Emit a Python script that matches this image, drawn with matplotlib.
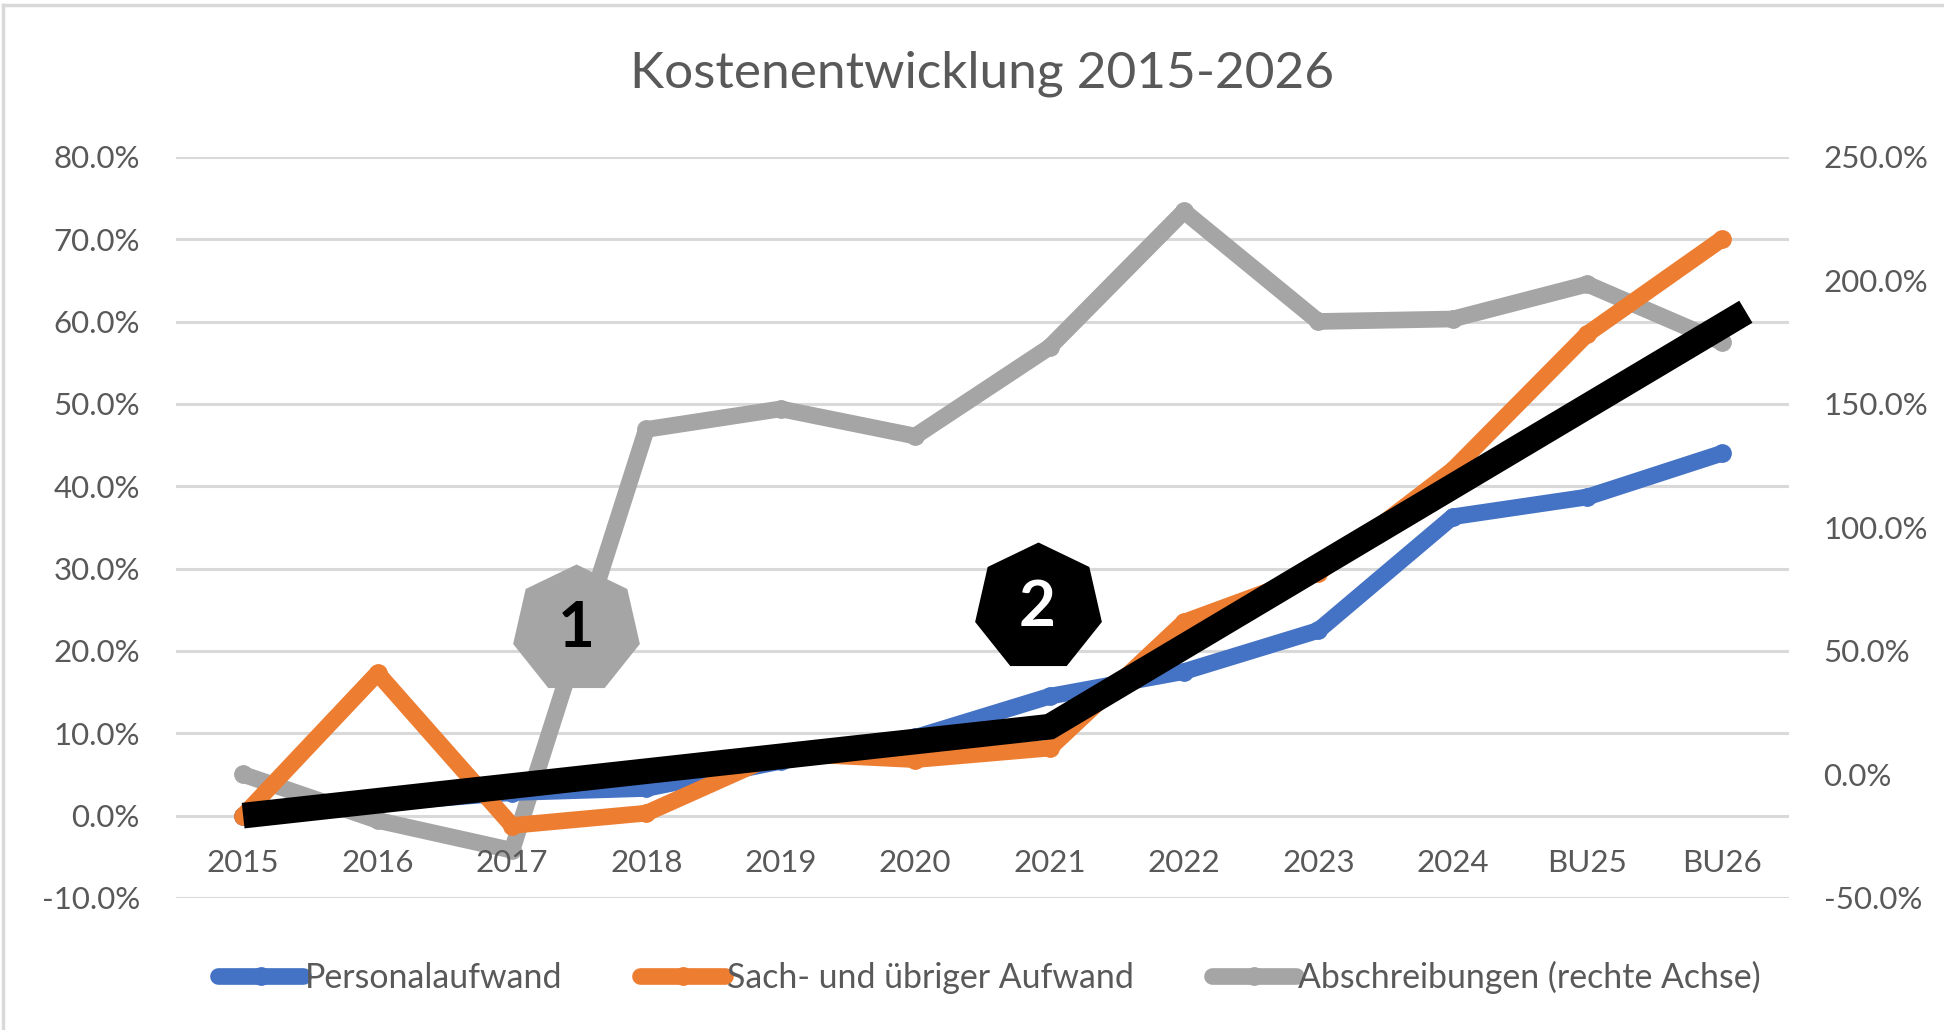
import matplotlib
matplotlib.use("Agg")
import matplotlib.pyplot as plt
import matplotlib.transforms as mtransforms
from matplotlib.ticker import PercentFormatter, MultipleLocator

plt.rcParams["font.family"] = ["Lato", "DejaVu Sans"]
plt.rcParams["axes.unicode_minus"] = False

# Data (fractions, 0.10 = 10 %)
categories = ["2015", "2016", "2017", "2018", "2019", "2020",
              "2021", "2022", "2023", "2024", "BU25", "BU26"]
personalaufwand = [0.0, 0.015, 0.028, 0.033, 0.066, 0.095,
                   0.145, 0.175, 0.225, 0.363, 0.387, 0.440]
sachaufwand = [0.0, 0.173, -0.012, 0.003, 0.076, 0.068,
               0.082, 0.235, 0.295, 0.420, 0.585, 0.700]
abschreibungen = [0.0, -0.186, -0.307, 1.397, 1.48, 1.37,
                  1.73, 2.28, 1.834, 1.844, 1.985, 1.75]  # right axis

# hand-drawn trend line (category position, left-axis value)
trend_x = [0, 6, 11.18]
trend_y = [0.0, 0.108, 0.612]

# numbered heptagon markers
badge_labels = ["1", "2"]
badge_x = [2.48, 5.91]
badge_y = [0.227, 0.253]
badge_face = ["#A5A5A5", "#000000"]
badge_text = ["#000000", "#FFFFFF"]

BLUE = "#4472C4"
ORANGE = "#ED7D31"
GRAY = "#A5A5A5"
TXT = "#595959"
GRID = "#D9D9D9"

fig = plt.figure(figsize=(19.44, 10.30), dpi=100)
ax = fig.add_axes([0.0905, 0.1282, 0.8297, 0.7194])
ax2 = ax.twinx()

x = list(range(len(categories)))
lw = 12
ms = 12.5

l3, = ax.plot(x, abschreibungen, color=GRAY, lw=lw, marker="o", ms=ms,
              solid_joinstyle="round", solid_capstyle="round",
              transform=ax2.transData, zorder=2,
              label="Abschreibungen (rechte Achse)")
l1, = ax.plot(x, personalaufwand, color=BLUE, lw=lw, marker="o", ms=ms,
              solid_joinstyle="round", solid_capstyle="round", zorder=3,
              label="Personalaufwand")
l2, = ax.plot(x, sachaufwand, color=ORANGE, lw=lw, marker="o", ms=ms,
              solid_joinstyle="round", solid_capstyle="round", zorder=4,
              label="Sach- und übriger Aufwand")

ax.plot(trend_x, trend_y, color="black", lw=18.5, solid_joinstyle="miter",
        solid_capstyle="butt", zorder=5)

for lab, bx, by, fc, tc in zip(badge_labels, badge_x, badge_y, badge_face, badge_text):
    ax.plot([bx], [by], marker=(7, 0, 0), ms=93.6, mew=0, color=fc,
            linestyle="none", zorder=6)
    ax.text(bx, by, lab, ha="center", va="center", fontsize=46,
            fontweight="bold", color=tc, zorder=7)

ax.set_xlim(-0.5, 11.5)
ax.set_ylim(-0.10, 0.80)
ax2.set_ylim(-0.5, 2.5)

ax.yaxis.set_major_locator(MultipleLocator(0.10))
ax.yaxis.set_major_formatter(PercentFormatter(xmax=1, decimals=1))
ax2.yaxis.set_major_locator(MultipleLocator(0.5))
ax2.yaxis.set_major_formatter(PercentFormatter(xmax=1, decimals=1))

ax.grid(axis="y", color=GRID, lw=2.2)
ax.set_axisbelow(True)
ax.tick_params(axis="y", length=0, pad=26, labelsize=22.5, labelcolor=TXT)
ax2.tick_params(axis="y", length=0, pad=25, labelsize=22.5, labelcolor=TXT)
ax.set_xticks([])
for a in (ax, ax2):
    for s in a.spines.values():
        s.set_visible(False)

# category labels sit below the 0 % line
offset = mtransforms.ScaledTranslation(0, -47 / 100, fig.dpi_scale_trans)
for xi, cat in zip(x, categories):
    ax.text(xi, 0, cat, ha="center", va="center", fontsize=22.5, color=TXT,
            transform=ax.transData + offset)

fig.text(0.505, 0.928, "Kostenentwicklung 2015-2026", ha="center", va="center",
         fontsize=37, color=TXT)

fig.legend(handles=[l1, l2, l3], loc="center", bbox_to_anchor=(0.509, 0.0515),
           ncol=3, frameon=False, fontsize=24.4, handlelength=2.5,
           handletextpad=0.05, columnspacing=2.3, labelcolor=TXT, numpoints=1)

# chart area border (top and left edges visible)
fig.add_artist(plt.Line2D([3 / 1944, 3 / 1944], [0, 1 - 5 / 1030],
                          transform=fig.transFigure, color=GRID, lw=2.5))
fig.add_artist(plt.Line2D([3 / 1944, 1], [1 - 5 / 1030, 1 - 5 / 1030],
                          transform=fig.transFigure, color=GRID, lw=2.5))

fig.savefig("out.png", dpi=100, facecolor="white")
